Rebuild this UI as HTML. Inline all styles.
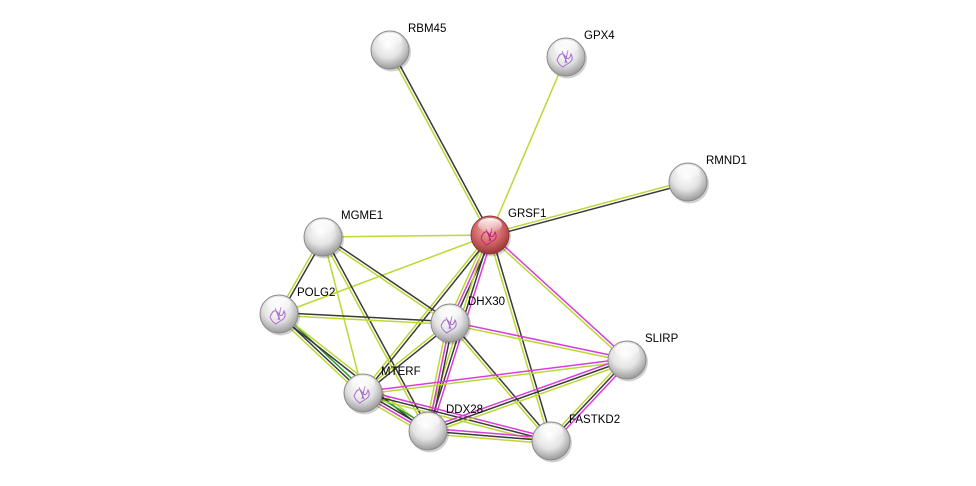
<!DOCTYPE html>
<html><head><meta charset="utf-8"><style>
html,body{margin:0;padding:0;background:#fff;width:976px;height:486px;overflow:hidden}
svg text{font-family:"Liberation Sans",sans-serif;font-size:11.5px;fill:#000}
</style></head><body>
<svg id="s" width="976" height="486" viewBox="0 0 976 486" xmlns="http://www.w3.org/2000/svg">
<defs>
<radialGradient id="gw" cx="45%" cy="35%" r="65%">
<stop offset="0" stop-color="#ffffff"/><stop offset="0.55" stop-color="#e4e4e4"/><stop offset="1" stop-color="#9a9a9a"/>
</radialGradient>
<radialGradient id="gr" cx="45%" cy="35%" r="65%">
<stop offset="0" stop-color="#f2b0b0"/><stop offset="0.55" stop-color="#d36a6a"/><stop offset="1" stop-color="#9a3434"/>
</radialGradient>
<linearGradient id="hl" x1="0" y1="0" x2="0" y2="1">
<stop offset="0" stop-color="#fff" stop-opacity="0.95"/><stop offset="1" stop-color="#fff" stop-opacity="0.1"/>
</linearGradient>
</defs>
<g id="edges"></g>
<g id="nodes"></g>
</svg>
<script>
var N={GRSF1:[490,235],RBM45:[390,50],GPX4:[566,57],RMND1:[688,182],MGME1:[323,237],POLG2:[279,314],DHX30:[450,323],SLIRP:[627,360],MTERF:[363,393],DDX28:[428,431],FASTKD2:[551,441]};
var C={k:"#3a3a3a",y:"#bcd835",m:"#d93cd9",g:"#27a327"};
var E=[["GRSF1","RBM45","yk"],["GRSF1","GPX4","y"],["GRSF1","RMND1","yk"],["GRSF1","MGME1","y"],["GRSF1","POLG2","y"],
["GRSF1","DHX30","kmy"],["GRSF1","MTERF","ky"],["GRSF1","DDX28","mky"],["GRSF1","SLIRP","my"],["GRSF1","FASTKD2","ky"],
["MGME1","POLG2","ky"],["MGME1","DHX30","ky"],["MGME1","MTERF","y"],["MGME1","DDX28","ky"],["POLG2","DHX30","ky"],
["POLG2","MTERF","gky"],["POLG2","DDX28","yk"],["DHX30","MTERF","ky"],["DHX30","DDX28","kmy"],["DHX30","SLIRP","my"],
["DHX30","FASTKD2","ky"],["MTERF","SLIRP","my"],["MTERF","DDX28","gkmy"],["MTERF","FASTKD2","mky"],["DDX28","SLIRP","mky"],
["DDX28","FASTKD2","mky"],["SLIRP","FASTKD2","mky"]];
var ns="http://www.w3.org/2000/svg",eg=document.getElementById("edges"),ng=document.getElementById("nodes");
E.forEach(function(e){var a=N[e[0]],b=N[e[1]],dx=b[0]-a[0],dy=b[1]-a[1],L=Math.hypot(dx,dy),px=-dy/L,py=dx/L,n=e[2].length;
for(var i=0;i<n;i++){var o=(i-(n-1)/2)*2.8;var l=document.createElementNS(ns,"line");
l.setAttribute("x1",a[0]+px*o);l.setAttribute("y1",a[1]+py*o);l.setAttribute("x2",b[0]+px*o);l.setAttribute("y2",b[1]+py*o);
l.setAttribute("stroke",C[e[2][i]]);l.setAttribute("stroke-width","1.5");eg.appendChild(l);}});
var R=19;
for(var k in N){var p=N[k];
var sh=document.createElementNS(ns,"circle");sh.setAttribute("cx",p[0]+1.5);sh.setAttribute("cy",p[1]+2);sh.setAttribute("r",R+0.5);sh.setAttribute("fill","#000");sh.setAttribute("opacity","0.18");ng.appendChild(sh);
var c=document.createElementNS(ns,"circle");c.setAttribute("cx",p[0]);c.setAttribute("cy",p[1]);c.setAttribute("r",R);
c.setAttribute("fill",k=="GRSF1"?"url(#gr)":"url(#gw)");c.setAttribute("stroke",k=="GRSF1"?"#8a3a3a":"#8a8a8a");c.setAttribute("stroke-width","1");ng.appendChild(c);
if(["GRSF1","GPX4","POLG2","DHX30","MTERF"].indexOf(k)>=0){var q=document.createElementNS(ns,"path");
q.setAttribute("d","M"+(p[0]-9)+","+(p[1]+3)+" q4,-10 8,-4 t6,-2 q3,6 -2,9 t-6,4 q-4,-2 -6,-7 M"+(p[0]-4)+","+(p[1]-6)+" l5,12 M"+(p[0]+2)+","+(p[1]-7)+" l-3,13");
q.setAttribute("fill","none");q.setAttribute("stroke",k=="GRSF1"?"#c0207a":"#a66ad0");q.setAttribute("stroke-width","1");ng.appendChild(q);}
var h=document.createElementNS(ns,"ellipse");h.setAttribute("cx",p[0]);h.setAttribute("cy",p[1]-10);h.setAttribute("rx",12);h.setAttribute("ry",7);h.setAttribute("fill","url(#hl)");ng.appendChild(h);
var t=document.createElementNS(ns,"text");t.setAttribute("x",p[0]+18);t.setAttribute("y",p[1]-18);t.textContent=k;ng.appendChild(t);}
</script>
</body></html>
